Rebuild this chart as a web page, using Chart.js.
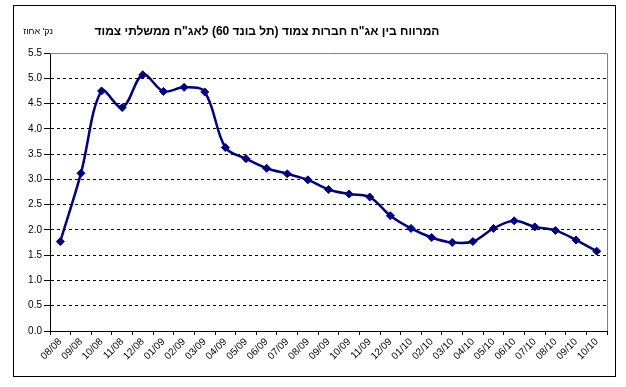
<!DOCTYPE html>
<html>
<head>
<meta charset="utf-8">
<script src="https://cdn.jsdelivr.net/npm/chart.js@4.4.0/dist/chart.umd.min.js"></script>
<style>
  body { margin: 0; background: #fff; }
  canvas { display: block; }
</style>
</head>
<body>
<canvas id="spreadChart" width="626" height="387"></canvas>
<script>
const TITLE = 'המרווח בין אג"ח חברות צמוד (תל בונד 60) לאג"ח ממשלתי צמוד';
const UNIT_LABEL = "נק' אחוז";

const months = [
  '08/08', '09/08', '10/08', '11/08', '12/08', '01/09', '02/09', '03/09', '04/09',
  '05/09', '06/09', '07/09', '08/09', '09/09', '10/09', '11/09', '12/09', '01/10',
  '02/10', '03/10', '04/10', '05/10', '06/10', '07/10', '08/10', '09/10', '10/10'
];

const spread = [
  1.77, 3.12, 4.75, 4.42, 5.07, 4.74, 4.82, 4.73, 3.63,
  3.41, 3.22, 3.11, 2.99, 2.80, 2.71, 2.65, 2.28, 2.03,
  1.85, 1.75, 1.77, 2.03, 2.18, 2.06, 1.99, 1.80, 1.58
];

const NAVY = '#000080';
const FONT = 'Arial, "Liberation Sans", sans-serif';

// white page, outer frame, title and unit label
const framePlugin = {
  id: 'frame',
  beforeDraw(chart) {
    const ctx = chart.ctx;
    ctx.save();
    ctx.fillStyle = '#fff';
    ctx.fillRect(0, 0, chart.width, chart.height);
    ctx.strokeStyle = '#000';
    ctx.lineWidth = 1;
    ctx.strokeRect(13.5, 5.5, 602, 371);

    ctx.direction = 'rtl';
    ctx.fillStyle = '#000';
    ctx.textBaseline = 'middle';
    ctx.textAlign = 'center';
    ctx.font = 'bold 12px ' + FONT;
    ctx.fillText(TITLE, 267, 32);
    ctx.font = '9px ' + FONT;
    ctx.textAlign = 'right';
    ctx.fillText(UNIT_LABEL, 53, 32);
    ctx.restore();
  },
  beforeDatasetsDraw(chart) {
    const { ctx, chartArea: a } = chart;
    ctx.save();
    ctx.strokeStyle = '#808080';
    ctx.lineWidth = 1;
    ctx.beginPath();
    ctx.moveTo(a.left, Math.round(a.top) + 0.5);
    ctx.lineTo(Math.round(a.right) + 0.5, Math.round(a.top) + 0.5);
    ctx.lineTo(Math.round(a.right) + 0.5, a.bottom);
    ctx.stroke();
    ctx.restore();
  }
};

new Chart(document.getElementById('spreadChart'), {
  type: 'line',
  data: {
    labels: months,
    datasets: [{
      data: spread,
      borderColor: NAVY,
      backgroundColor: NAVY,
      borderWidth: 2.5,
      pointStyle: 'rectRot',
      pointRadius: 4,
      pointBackgroundColor: NAVY,
      pointBorderColor: NAVY,
      pointBorderWidth: 1,
      tension: 0.35,
      fill: false
    }]
  },
  options: {
    responsive: false,
    animation: false,
    layout: { padding: { left: 20, top: 53, right: 19, bottom: 10 } },
    plugins: {
      legend: { display: false },
      title: { display: false },
      tooltip: { enabled: false }
    },
    scales: {
      x: {
        type: 'category',
        offset: true,
        afterFit: s => { s.height = 46; },
        grid: {
          offset: true,
          drawOnChartArea: false,
          drawTicks: true,
          tickLength: 4,
          color: '#000'
        },
        border: { color: '#000', width: 1 },
        ticks: {
          color: '#000',
          font: { family: FONT, size: 10 },
          minRotation: 45,
          maxRotation: 45,
          autoSkip: false,
          padding: 1
        }
      },
      y: {
        min: 0,
        max: 5.5,
        afterFit: s => { s.width = 30; },
        grid: {
          color: ctx => (ctx.tick && (ctx.tick.value === 0 || ctx.tick.value === 5.5)) ? 'rgba(0,0,0,0)' : '#000',
          tickColor: '#000',
          tickBorderDash: [],
          tickLength: 6,
          lineWidth: 1
        },
        border: { color: '#000', width: 1, dash: [3, 3] },
        ticks: {
          stepSize: 0.5,
          color: '#000',
          font: { family: FONT, size: 10 },
          padding: 2,
          callback: v => v.toFixed(1)
        }
      }
    }
  },
  plugins: [framePlugin]
});
</script>
</body>
</html>
